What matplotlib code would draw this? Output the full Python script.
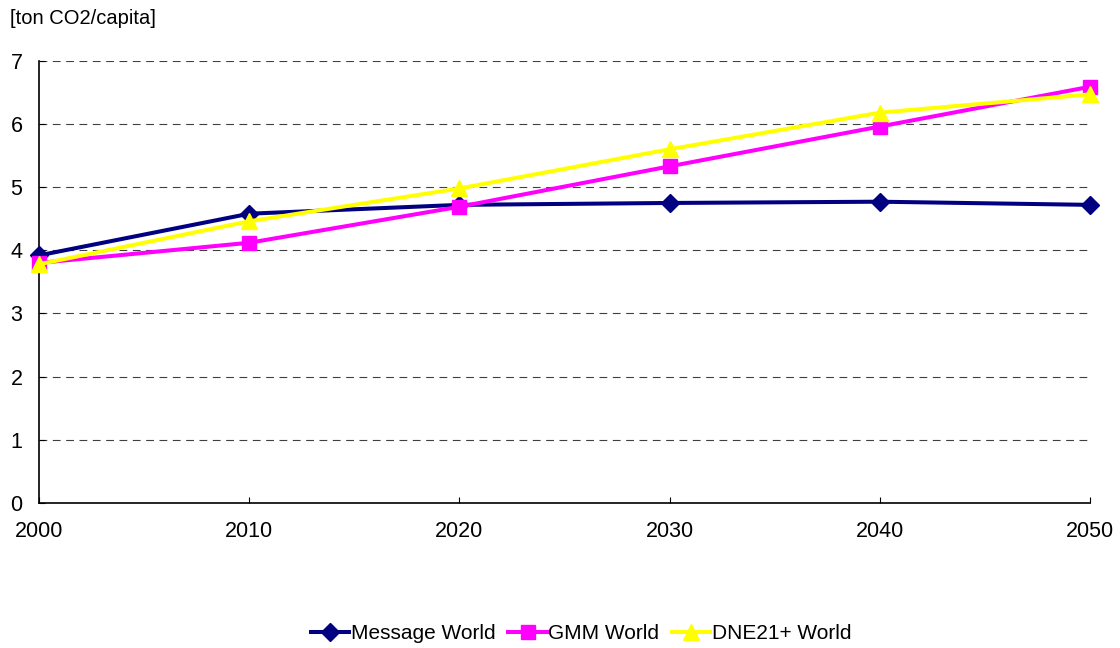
import matplotlib
matplotlib.use('Agg')
import matplotlib.pyplot as plt

plt.rcParams['font.family'] = ['Liberation Sans', 'DejaVu Sans']

# data
years = [2000, 2010, 2020, 2030, 2040, 2050]
message_world = [3.92, 4.58, 4.72, 4.75, 4.77, 4.72]
gmm_world = [3.80, 4.12, 4.69, 5.33, 5.96, 6.59]
dne21_world = [3.78, 4.46, 4.98, 5.60, 6.18, 6.47]
y_unit = '[ton CO2/capita]'

fig = plt.figure(figsize=(11.2, 6.48), dpi=100)
ax = fig.add_axes([0.035, 0.224, 0.938, 0.682])

ax.plot(years, message_world, color='#000080', lw=2.9, marker='D', ms=9,
        label='Message World', zorder=3, clip_on=False)
ax.plot(years, gmm_world, color='#FF00FF', lw=2.9, marker='s', ms=10,
        label='GMM World', zorder=4, clip_on=False)
ax.plot(years, dne21_world, color='#FFFF00', lw=2.9, marker='^', ms=11,
        label='DNE21+ World', zorder=5, clip_on=False)

ax.set_xlim(2000, 2050)
ax.set_ylim(0, 7)
ax.set_xticks(years)
ax.set_yticks(range(0, 8))
ax.tick_params(axis='both', direction='in', length=4, width=0.8,
               labelsize=15.5, colors='black')
ax.tick_params(axis='x', pad=13)
ax.tick_params(axis='y', pad=12)

for yv in range(1, 8):
    ax.axhline(yv, color='#404040', lw=0.8, ls=(0, (7, 5)), zorder=1)

for side in ['top', 'right']:
    ax.spines[side].set_visible(False)
ax.spines['left'].set_linewidth(1.2)
ax.spines['bottom'].set_linewidth(1.2)

fig.text(0.009, 0.972, y_unit, fontsize=14.5, va='center', ha='left')

fig.legend(loc='center', bbox_to_anchor=(0.519, 0.022), ncol=3, frameon=False,
           fontsize=15, handlelength=1.85, handletextpad=0.08, columnspacing=0.6)

fig.savefig('out.png', dpi=100)
